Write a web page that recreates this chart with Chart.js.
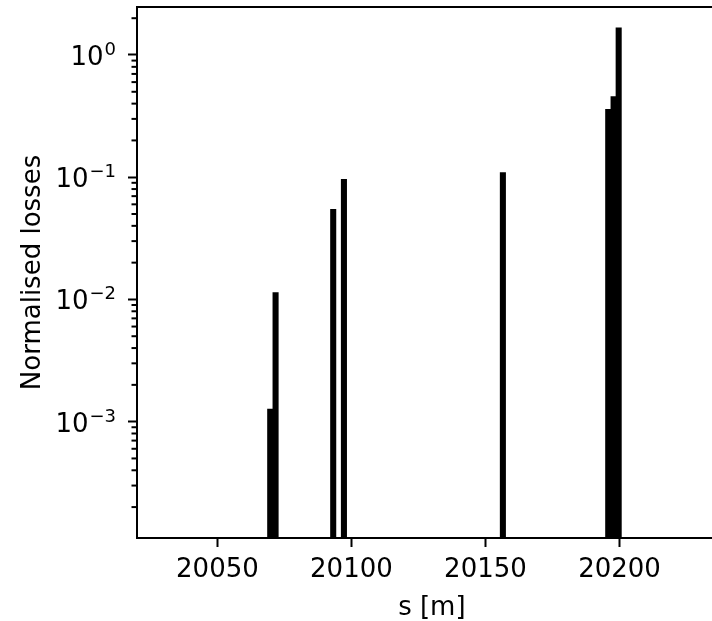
<!DOCTYPE html>
<html>
<head>
<meta charset="utf-8">
<script src="https://cdn.jsdelivr.net/npm/chart.js@4/dist/chart.umd.min.js"></script>
<style>
  html, body { margin: 0; padding: 0; background: #fff; overflow: hidden; }
  #wrap { width: 740px; height: 621px; }
</style>
</head>
<body>
<div id="wrap"><canvas id="chartCanvas"></canvas></div>
<script>
// positions along the line (m) and normalised losses
var positions = [20069.7, 20071.7, 20093.2, 20097.2, 20156.5, 20195.8, 20197.8, 20199.7];
var losses = [0.00127, 0.0114, 0.0546, 0.0961, 0.109, 0.36, 0.456, 1.67];

var xTicks = [20050, 20100, 20150, 20200];
var yTicks = [1e-3, 1e-2, 1e-1, 1];
var yTickExps = ['\u22123', '\u22122', '\u22121', '0'];

var xMin = 20020, xMax = 20240;
var yMin = 1.117e-4, yMax = 2.47;

var font = { family: 'DejaVu Sans', size: 26 };

// frame round the plot, minor log ticks and 10^n labels
var framePlugin = {
  id: 'frame',
  afterDraw: function(chart) {
    var ctx = chart.ctx;
    var a = chart.chartArea;
    var y = chart.scales.y;
    ctx.save();
    ctx.strokeStyle = '#000';
    ctx.lineWidth = 2;
    ctx.strokeRect(a.left, a.top, a.right - a.left, a.bottom - a.top);
    // minor ticks
    for (var n = -4; n <= 0; n++) {
      for (var k = 2; k <= 9; k++) {
        var v = k * Math.pow(10, n);
        if (v < yMin || v > yMax) continue;
        var py = y.getPixelForValue(v);
        ctx.beginPath();
        ctx.moveTo(a.left - 5.5, py);
        ctx.lineTo(a.left, py);
        ctx.stroke();
      }
    }
    // tick labels with superscript exponent
    ctx.fillStyle = '#000';
    ctx.textAlign = 'right';
    ctx.textBaseline = 'alphabetic';
    var right = a.left - 21;
    yTicks.forEach(function(v, i) {
      var py = y.getPixelForValue(v);
      ctx.font = '18px "DejaVu Sans"';
      var w = ctx.measureText(yTickExps[i]).width;
      ctx.fillText(yTickExps[i], right, py);
      ctx.font = '26px "DejaVu Sans"';
      ctx.fillText('10', right - w - 1, py + 10);
    });
    ctx.restore();
  }
};

var data = positions.map(function(p, i) { return { x: p, y: losses[i] }; });

var ctx = document.getElementById('chartCanvas').getContext('2d');
var chart = new Chart(ctx, {
  type: 'bar',
  data: {
    datasets: [{
      data: data,
      backgroundColor: '#000',
      borderWidth: 0,
      barThickness: 5.4
    }]
  },
  options: {
    responsive: true,
    maintainAspectRatio: false,
    animation: false,
    devicePixelRatio: 1,
    layout: { padding: { top: 7, right: 13.3, left: 0, bottom: 0 } },
    plugins: { legend: { display: false }, tooltip: { enabled: false } },
    scales: {
      x: {
        type: 'linear',
        min: xMin,
        max: xMax,
        offset: false,
        afterBuildTicks: function(scale) {
          scale.ticks = xTicks.map(function(v) { return { value: v }; });
        },
        afterFit: function(scale) {
          scale.height = 83;
          scale.paddingLeft = 0;
          scale.paddingRight = 0;
        },
        ticks: {
          color: '#000',
          font: font,
          padding: 8,
          maxRotation: 0,
          autoSkip: false,
          callback: function(v) { return String(v); }
        },
        grid: { offset: false, drawOnChartArea: false, tickLength: 9, tickWidth: 2, tickColor: '#000' },
        border: { display: false },
        title: {
          display: true,
          text: 's [m]',
          color: '#000',
          font: { family: 'DejaVu Sans', size: 26, lineHeight: 1 },
          padding: { top: 0, bottom: 0 }
        }
      },
      y: {
        type: 'logarithmic',
        min: yMin,
        max: yMax,
        afterBuildTicks: function(scale) {
          scale.ticks = yTicks.map(function(v) { return { value: v }; });
        },
        afterFit: function(scale) {
          scale.width = 137;
          scale.paddingTop = 0;
          scale.paddingBottom = 0;
        },
        ticks: {
          color: '#000',
          font: font,
          autoSkip: false,
          callback: function() { return ''; }
        },
        grid: { drawOnChartArea: false, tickLength: 9, tickWidth: 2, tickColor: '#000' },
        border: { display: false },
        title: {
          display: true,
          text: 'Normalised losses',
          color: '#000',
          font: { family: 'DejaVu Sans', size: 26, lineHeight: 1 },
          padding: { top: 20, bottom: 0 }
        }
      }
    }
  },
  plugins: [framePlugin]
});
</script>
</body>
</html>
